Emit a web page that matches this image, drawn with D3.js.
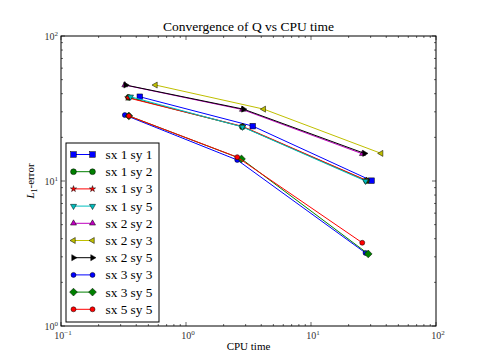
<!DOCTYPE html>
<html><head><meta charset="utf-8">
<script src="https://cdn.jsdelivr.net/npm/d3@7"></script>
<style>body{margin:0;background:#fff}svg{display:block}text{font-family:"Liberation Serif","DejaVu Serif",serif}</style>
</head><body><svg id="c" width="485" height="363"></svg>
<script>
const seriesNames = ["sx 1 sy 1","sx 1 sy 2","sx 1 sy 3","sx 1 sy 5","sx 2 sy 2","sx 2 sy 3","sx 2 sy 5","sx 3 sy 3","sx 3 sy 5","sx 5 sy 5"];
const seriesColors = ["#0000ff","#008000","#ff0000","#00bfbf","#bf00bf","#bfbf00","#000000","#0000ff","#008000","#ff0000"];
const seriesMarkers = ["square","circle","star","triDown","triUp","triLeft","triRight","circleS","diamond","circleS"];
const cpuTime = [
  [0.427, 3.42, 30.5],
  [0.347, 2.82, 27.8],
  [0.342, 2.84, 27.8],
  [0.360, 2.83, 27.3],
  [0.324, 2.83, 25.8],
  [0.570, 4.19, 36.4],
  [0.329, 2.88, 26.8],
  [0.324, 2.57, 27.3],
  [0.349, 2.78, 28.7],
  [0.349, 2.57, 25.7]
];
const l1Error = [
  [38.1, 23.9, 10.05],
  [37.7, 23.7, 10.05],
  [37.5, 23.8, 10.1],
  [38.1, 23.6, 10.0],
  [45.9, 31.1, 15.4],
  [45.9, 31.3, 15.5],
  [45.9, 31.3, 15.5],
  [28.5, 13.96, 3.19],
  [28.1, 14.2, 3.14],
  [28.1, 14.6, 3.75]
];
const xTickExps = [-1, 0, 1, 2];
const yTickExps = [0, 1, 2];
const titleText = "Convergence of Q vs CPU time";
const xLabel = "CPU time";

const svg = d3.select("#c");
const L = 61, R = 436, T = 36, B = 326;
const x = d3.scaleLog().domain([0.1, 100]).range([L, R]);
const y = d3.scaleLog().domain([1, 100]).range([B, T]);

svg.append("rect").attr("x", L).attr("y", T).attr("width", R - L).attr("height", B - T)
  .attr("fill", "none").attr("stroke", "#000").attr("stroke-width", 1);

const tg = svg.append("g").attr("stroke", "#000").attr("stroke-width", 0.6);
function minorVals(lo, hi) { const v = []; for (let e = lo; e < hi; e++) for (let m = 2; m <= 9; m++) v.push(m * Math.pow(10, e)); return v; }
xTickExps.forEach(e => { const px = x(Math.pow(10, e));
  tg.append("line").attr("x1", px).attr("x2", px).attr("y1", B).attr("y2", B - 4);
  tg.append("line").attr("x1", px).attr("x2", px).attr("y1", T).attr("y2", T + 4); });
minorVals(-1, 2).forEach(v => { const px = x(v);
  tg.append("line").attr("x1", px).attr("x2", px).attr("y1", B).attr("y2", B - 2);
  tg.append("line").attr("x1", px).attr("x2", px).attr("y1", T).attr("y2", T + 2); });
yTickExps.forEach(e => { const py = y(Math.pow(10, e));
  tg.append("line").attr("x1", L).attr("x2", L + 4).attr("y1", py).attr("y2", py);
  tg.append("line").attr("x1", R).attr("x2", R - 4).attr("y1", py).attr("y2", py); });
minorVals(0, 2).forEach(v => { const py = y(v);
  tg.append("line").attr("x1", L).attr("x2", L + 2).attr("y1", py).attr("y2", py);
  tg.append("line").attr("x1", R).attr("x2", R - 2).attr("y1", py).attr("y2", py); });

function powLabel(g, e, anchor) {
  const t = g.append("text").attr("font-size", 10).attr("fill", "#333").attr("text-anchor", anchor);
  t.append("tspan").text("10");
  t.append("tspan").attr("dy", -4).attr("font-size", 7).text(e < 0 ? "\u2212" + (-e) : String(e));
  return t;
}
xTickExps.forEach(e => powLabel(svg, e, "middle").attr("x", x(Math.pow(10, e)) + 2).attr("y", B + 13));
yTickExps.forEach(e => powLabel(svg, e, "end").attr("x", L - 3).attr("y", y(Math.pow(10, e)) + 4));

svg.append("text").attr("x", (L + R) / 2).attr("y", 31).attr("text-anchor", "middle")
  .attr("font-size", 13.5).text(titleText);
svg.append("text").attr("x", (L + R) / 2).attr("y", 350).attr("text-anchor", "middle")
  .attr("font-size", 11).text(xLabel);
const yl = svg.append("text").attr("transform", "translate(34," + ((T + B) / 2) + ") rotate(-90)")
  .attr("text-anchor", "middle").attr("font-size", 11);
yl.append("tspan").attr("font-style", "italic").text("L");
yl.append("tspan").attr("dy", 3).attr("font-size", 8).text("1");
yl.append("tspan").attr("dy", -3).text("-error");

function drawMarker(g, type, cx, cy, color) {
  const s = 2.8;
  let el;
  switch (type) {
    case "square": el = g.append("rect").attr("x", cx - s).attr("y", cy - s).attr("width", 2 * s).attr("height", 2 * s); break;
    case "circle": el = g.append("circle").attr("cx", cx).attr("cy", cy).attr("r", 2.9); break;
    case "circleS": el = g.append("circle").attr("cx", cx).attr("cy", cy).attr("r", 2.5); break;
    case "diamond": el = g.append("path").attr("d", `M${cx},${cy - 3.9}L${cx + 3.9},${cy}L${cx},${cy + 3.9}L${cx - 3.9},${cy}Z`); break;
    case "star": el = g.append("path").attr("d", d3.symbol(d3.symbolStar, 12)()).attr("transform", `translate(${cx},${cy})`); break;
    default: {
      const a = {triUp: -90, triDown: 90, triLeft: 180, triRight: 0}[type] * Math.PI / 180;
      const pts = [0, 1, 2].map(i => { const t = a + i * 2 * Math.PI / 3; return [cx + 3.5 * Math.cos(t), cy + 3.5 * Math.sin(t)]; });
      el = g.append("path").attr("d", "M" + pts.map(p => p.join(",")).join("L") + "Z");
    }
  }
  el.attr("fill", color).attr("stroke", "#000").attr("stroke-width", 0.5);
}

const plot = svg.append("g");
const line = d3.line().x(d => x(d[0])).y(d => y(d[1]));
seriesNames.forEach((n, i) => {
  const pts = cpuTime[i].map((t, j) => [t, l1Error[i][j]]);
  const g = plot.append("g");
  g.append("path").attr("d", line(pts)).attr("fill", "none").attr("stroke", seriesColors[i]).attr("stroke-width", 1);
  pts.forEach(p => drawMarker(g, seriesMarkers[i], x(p[0]), y(p[1]), seriesColors[i]));
});

const lg = svg.append("g");
lg.append("rect").attr("x", 66).attr("y", 143).attr("width", 93).attr("height", 179)
  .attr("fill", "#fff").attr("stroke", "#000").attr("stroke-width", 1);
seriesNames.forEach((n, i) => {
  const ly = 154.5 + i * 17.2;
  lg.append("line").attr("x1", 73.5).attr("x2", 92.5).attr("y1", ly).attr("y2", ly).attr("stroke", seriesColors[i]).attr("stroke-width", 1);
  drawMarker(lg, seriesMarkers[i], 73.5, ly, seriesColors[i]);
  drawMarker(lg, seriesMarkers[i], 92.5, ly, seriesColors[i]);
  lg.append("text").attr("x", 105.5).attr("y", ly + 4.5).attr("font-size", 13.3).text(n);
});
</script></body></html>
